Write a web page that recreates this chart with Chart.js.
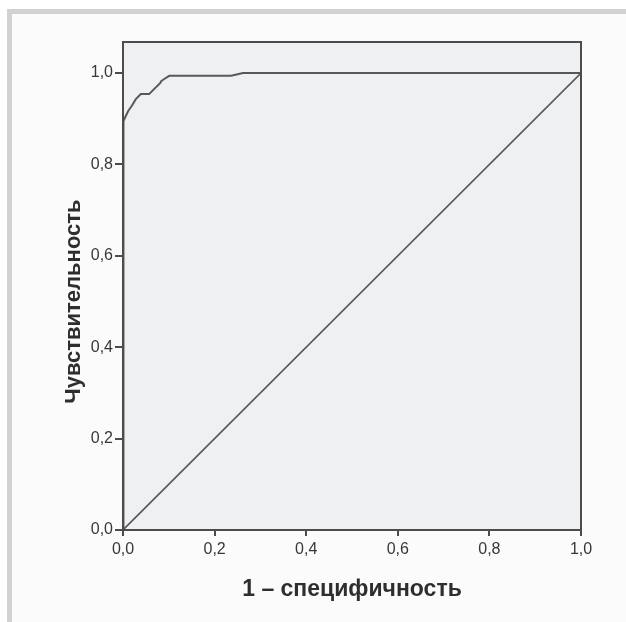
<!DOCTYPE html>
<html>
<head>
<meta charset="utf-8">
<script src="https://cdn.jsdelivr.net/npm/chart.js@4.4.1/dist/chart.umd.min.js"></script>
<style>
  html, body { margin: 0; padding: 0; background: #fff; }
  #wrap { position: relative; width: 626px; height: 622px; }
  #frame { position: absolute; left: 7px; top: 9px; right: 0; bottom: 0;
           border-top: 5px solid #d2d2d2; border-left: 5px solid #d2d2d2; background: #fbfbfb; }
  canvas { position: absolute; left: 0; top: 0; }
</style>
</head>
<body>
<div id="wrap">
  <div id="frame"></div>
  <canvas id="roc" width="626" height="622"></canvas>
</div>
<script>
// ROC curve (1 - specificity, sensitivity)
const fpr = [0, 0, 0.002, 0.006, 0.012, 0.019, 0.028, 0.039, 0.057, 0.064, 0.075, 0.082, 0.083, 0.090, 0.101, 0.236, 0.262, 1.0];
const tpr = [0, 0.82, 0.895, 0.906, 0.918, 0.928, 0.943, 0.954, 0.954, 0.961, 0.972, 0.979, 0.982, 0.987, 0.994, 0.994, 1.0, 1.0];
// reference diagonal
const diagX = [0, 1];
const diagY = [0, 1];
const tickValues = [0, 0.2, 0.4, 0.6, 0.8, 1.0];
const xTitle = '1 – специфичность';
const yTitle = 'Чувствительность';

const toPoints = (xs, ys) => xs.map((x, i) => ({ x: x, y: ys[i] }));
const fmt = v => v.toFixed(1).replace('.', ',');

// plot background, frame and axis titles (centred on the 0..1 range, as SPSS does)
const framePlugin = {
  id: 'frame',
  beforeDraw(chart) {
    const a = chart.chartArea, ctx = chart.ctx;
    ctx.save();
    ctx.fillStyle = '#eff0f2';
    ctx.fillRect(a.left, a.top, a.right - a.left, a.bottom - a.top);
    ctx.restore();
  },
  afterDraw(chart) {
    const a = chart.chartArea, ctx = chart.ctx;
    const xs = chart.scales.x, ys = chart.scales.y;
    ctx.save();
    ctx.strokeStyle = '#4c4c4c';
    ctx.lineWidth = 2;
    ctx.strokeRect(a.left, a.top, a.right - a.left, a.bottom - a.top);

    ctx.fillStyle = '#2e2e2e';
    ctx.textAlign = 'center';
    ctx.textBaseline = 'middle';
    ctx.font = 'bold 23px "Liberation Sans", Arial, sans-serif';
    ctx.fillText(xTitle, xs.getPixelForValue(0.5), 590);
    ctx.font = 'bold 22px "Liberation Sans", Arial, sans-serif';
    ctx.translate(74, ys.getPixelForValue(0.5));
    ctx.rotate(-Math.PI / 2);
    ctx.fillText(yTitle, 0, 0);
    ctx.restore();
  }
};

new Chart(document.getElementById('roc').getContext('2d'), {
  type: 'scatter',
  data: {
    datasets: [
      {
        label: 'ROC',
        data: toPoints(fpr, tpr),
        showLine: true,
        borderColor: '#585858',
        borderWidth: 2,
        pointRadius: 0,
        tension: 0
      },
      {
        label: 'diag',
        data: toPoints(diagX, diagY),
        showLine: true,
        borderColor: '#585858',
        borderWidth: 1.6,
        pointRadius: 0
      }
    ]
  },
  options: {
    responsive: false,
    animation: false,
    layout: { padding: { left: 57, top: 42, right: 45, bottom: 15 } },
    plugins: { legend: { display: false }, tooltip: { enabled: false } },
    scales: {
      x: {
        type: 'linear',
        min: 0,
        max: 1,
        afterBuildTicks: s => { s.ticks = tickValues.map(v => ({ value: v })); },
        afterFit: s => { s.height = 77; },
        grid: { drawOnChartArea: false, drawTicks: true, tickLength: 6, color: '#4c4c4c', lineWidth: 2 },
        border: { display: true, color: '#4c4c4c', width: 2 },
        ticks: {
          callback: v => fmt(v),
          color: '#383838',
          padding: 4,
          maxRotation: 0,
          font: { family: 'Liberation Sans, Arial', size: 16 }
        }
      },
      y: {
        type: 'linear',
        min: 0,
        max: 1.068,
        afterBuildTicks: s => { s.ticks = tickValues.map(v => ({ value: v })); },
        afterFit: s => { s.width = 66; },
        grid: { drawOnChartArea: false, drawTicks: true, tickLength: 8, color: '#4c4c4c', lineWidth: 2 },
        border: { display: true, color: '#4c4c4c', width: 2 },
        ticks: {
          callback: v => fmt(v),
          color: '#383838',
          padding: 2,
          font: { family: 'Liberation Sans, Arial', size: 16 }
        }
      }
    }
  },
  plugins: [framePlugin]
});
</script>
</body>
</html>
